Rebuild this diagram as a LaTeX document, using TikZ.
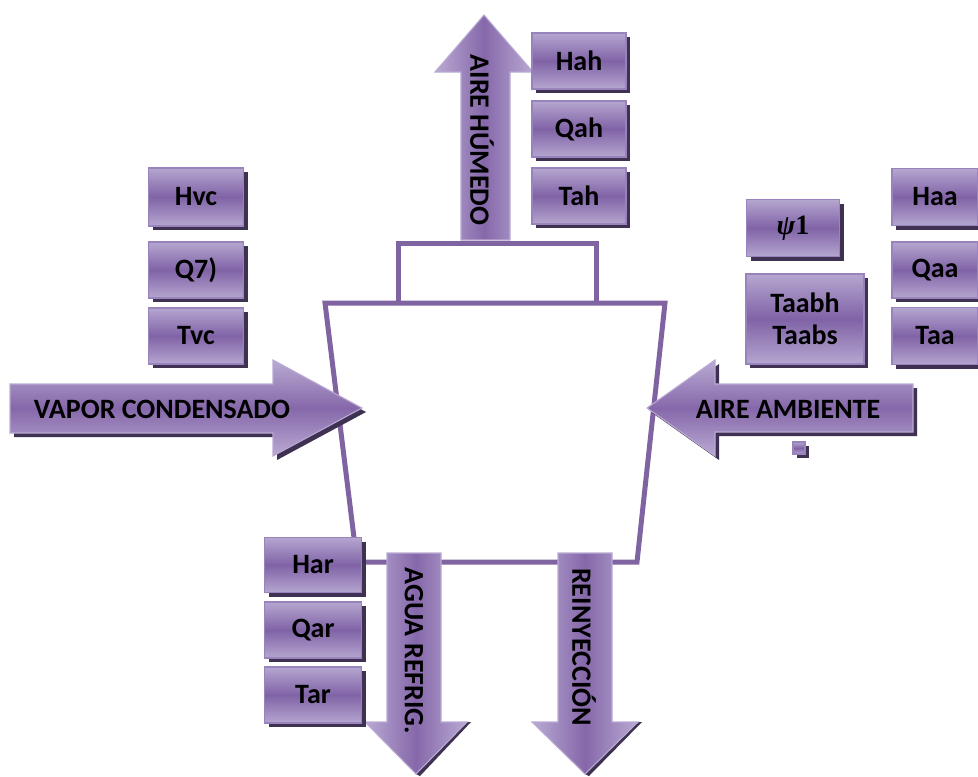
\documentclass[tikz,border=0pt]{standalone}
\usepackage{fontspec}
\setmainfont{Carlito}
\newfontfamily\psifont{Liberation Serif}
\usetikzlibrary{shadows}
\definecolor{ptop}{HTML}{B5A6D0}
\definecolor{pmid}{HTML}{8063A6}
\definecolor{pedge}{HTML}{9883BC}
\definecolor{pshadow}{HTML}{3F3151}
\definecolor{pline}{HTML}{8064A2}
\definecolor{atop}{HTML}{B9AAD3}
\definecolor{amid}{HTML}{8668AA}
\tikzset{
  x=0.75pt, y=-0.75pt,
  lbl/.style={font=\bfseries\fontsize{21}{24}\selectfont, text=black, inner sep=0pt},
  pbox/.style={rectangle, draw=pedge, line width=0.8pt, top color=ptop, bottom color=ptop, middle color=pmid,
    inner sep=0pt, align=center, font=\bfseries\fontsize{21}{24}\selectfont, text=black,
    drop shadow={shadow xshift=3pt, shadow yshift=-3pt, fill=pshadow, opacity=1}},
  harrow/.style={draw=atop, line width=0.8pt, top color=atop, bottom color=atop, middle color=amid},
  varrow/.style={draw=atop, line width=0.8pt, left color=atop, right color=atop, middle color=amid},
  ashadow/.style={fill=pshadow},
  vessel/.style={draw=pline, line width=3.75pt}
}
\newcommand\pbx[6]{\node[pbox, minimum width=#4*0.75pt, minimum height=#5*0.75pt] (#1) at (#2,#3) {#6};}
\begin{document}
\begin{tikzpicture}
\useasboundingbox (0,0) rectangle (978,776);
% vessel
\draw[vessel] (398,303) -- (398,243) -- (596,243) -- (596,303);
\draw[vessel, line join=miter] (325,303) -- (665,303) -- (637,562) -- (357,562) -- cycle;
% up arrow
\path[varrow] (461,240) -- (461,72) -- (435,72) -- (484,15) -- (533,72) -- (510,72) -- (510,240) -- cycle;
\node[lbl, rotate=-90] (tAH) at (482,140) {AIRE HÚMEDO};
% left arrow
\fill[ashadow] (14,388) -- (277,388) -- (277,364) -- (366,412) -- (277,460) -- (277,437) -- (14,437) -- cycle;
\path[harrow] (10,384) -- (273,384) -- (273,360) -- (362,408) -- (273,456) -- (273,433) -- (10,433) -- cycle;
\node[lbl] (tVC) at (162,409) {VAPOR CONDENSADO};
% right arrow
\fill[ashadow] (917,388) -- (719,388) -- (719,364) -- (651,412) -- (719,460) -- (719,436) -- (917,436) -- cycle;
\path[harrow] (913,384) -- (715,384) -- (715,360) -- (647,408) -- (715,456) -- (715,432) -- (913,432) -- cycle;
\node[lbl] (tAA) at (788,409) {AIRE AMBIENTE};
% down arrows
\fill[ashadow] (445,722) -- (471,722) -- (420,776) -- (416,774) -- (467,722) -- cycle;
\path[varrow] (387,553) -- (441,553) -- (441,722) -- (467,722) -- (416,774) -- (365,722) -- (387,722) -- cycle;
\node[lbl, rotate=-90] (tAR) at (414,651) {AGUA REFRIG.};
\fill[ashadow] (616,722) -- (642,722) -- (589,776) -- (585,774) -- (638,722) -- cycle;
\path[varrow] (558,553) -- (612,553) -- (612,722) -- (638,722) -- (585,774) -- (532,722) -- (558,722) -- cycle;
\node[lbl, rotate=-90] (tRE) at (584,647) {REINYECCIÓN};
% boxes top
\pbx{hah}{579}{61}{94}{56}{Hah}
\pbx{qah}{579}{129}{94}{56}{Qah}
\pbx{tah}{579}{196}{94}{56}{Tah}
% boxes left
\pbx{hvc}{196}{197}{95}{58}{Hvc}
\pbx{qvc}{196}{270}{95}{56}{Q7)}
\pbx{tvc}{196}{336}{95}{56}{Tvc}
% boxes right
\pbx{psi}{793}{228}{93}{57}{{\psifont\bfseries\itshape ψ}{\psifont\bfseries 1}}
\pbx{taab}{805}{319}{118}{90}{Taabh\\Taabs}
\pbx{haa}{935}{197}{86}{57}{Haa}
\pbx{qaa}{935}{270}{86}{56}{Qaa}
\pbx{taa}{935}{336}{86}{57}{Taa}
\pbx{sq}{799}{448}{12}{12}{}
% boxes bottom
\pbx{har}{313}{565}{97}{55}{Har}
\pbx{qar}{313}{630}{97}{56}{Qar}
\pbx{tar}{313}{695}{97}{56}{Tar}
\end{tikzpicture}
\end{document}
